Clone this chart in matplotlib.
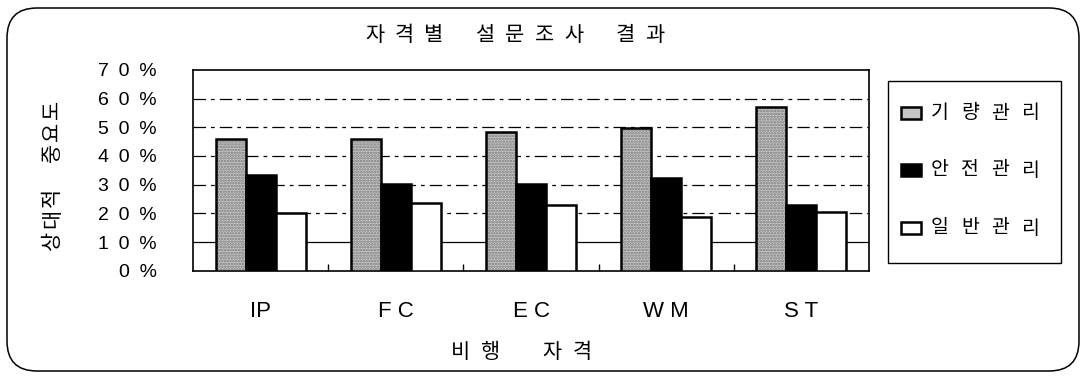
import numpy as np
import matplotlib.pyplot as plt
from matplotlib.patches import FancyBboxPatch, Rectangle

plt.rcParams["font.family"] = ["Noto Sans CJK KR", "DejaVu Sans"]
plt.rcParams["hatch.linewidth"] = 1.2

# survey results by flight qualification (relative importance, %)
categories = ["IP", "F C", "E C", "W M", "S T"]
skill_mgmt = [46.0, 46.0, 48.2, 49.7, 57.2]    # 기량관리
safety_mgmt = [33.4, 30.2, 30.3, 32.2, 23.0]   # 안전관리
general_mgmt = [20.2, 23.7, 22.8, 18.8, 20.5]  # 일반관리
series_names = ["기량관리", "안전관리", "일반관리"]
yticks = [0, 10, 20, 30, 40, 50, 60, 70]
ytick_labels = [f"{v // 10}\u2002{v % 10}\u2002%" if v else "0\u2002%" for v in yticks]

latin = ["Liberation Sans", "DejaVu Sans"]
gray_fill = "#c6c6c6"

fig = plt.figure(figsize=(10.8, 3.76), dpi=100)

# background axes in pixel units for the frame, titles and legend
bg = fig.add_axes([0, 0, 1, 1], zorder=-5)
bg.set_xlim(0, 1080)
bg.set_ylim(376, 0)
bg.axis("off")


def spaced(x, y, text, pitch, gap, vertical=False, **kw):
    """Place Hangul one glyph at a time with wide letter spacing."""
    pos = 0.0
    for ch in text:
        if ch == " ":
            pos += gap
            continue
        if vertical:
            bg.text(x, y - pos, ch, rotation=90, ha="center", va="center", **kw)
        else:
            bg.text(x + pos, y, ch, ha="center", va="center", **kw)
        pos += pitch


bg.add_patch(FancyBboxPatch((7, 8), 1072, 363,
                            boxstyle="round,pad=0,rounding_size=30",
                            fill=False, edgecolor="black", linewidth=1.1))

ax = fig.add_axes([0.1787, 0.280, 0.626, 0.534])

x = np.arange(len(categories))
w = 0.222
# stippled grey bars: dotted hatch layer plus a black outline
ax.bar(x - w, skill_mgmt, width=w, color=gray_fill, hatch="......",
       edgecolor="#7a7a7a", linewidth=0, zorder=3)
ax.bar(x - w, skill_mgmt, width=w, fill=False, edgecolor="black",
       linewidth=1.8, zorder=4)
ax.bar(x, safety_mgmt, width=w, color="black", edgecolor="black",
       linewidth=1.8, zorder=4)
ax.bar(x + w, general_mgmt, width=w, color="white", edgecolor="black",
       linewidth=1.8, zorder=4)

ax.set_xlim(-0.5, len(categories) - 0.5)
ax.set_ylim(0, 70)

# broken-looking horizontal gridlines
for y in yticks[1:-1]:
    ls = "-" if y == 10 else (0, (10, 4, 3, 4))
    ax.axhline(y, color="black", linewidth=0.9, linestyle=ls, zorder=1)

ax.set_yticks(yticks)
ax.set_yticklabels(ytick_labels, fontsize=14, family=latin)
ax.tick_params(axis="y", length=0, pad=26)

ax.set_xticks(x)
ax.set_xticklabels(categories, fontsize=16, family=latin)
ax.tick_params(axis="x", length=0, pad=22)
ax.set_xticks(np.arange(0.5, len(categories) - 0.5), minor=True)
ax.tick_params(axis="x", which="minor", direction="in", length=5, width=1)

for s in ax.spines.values():
    s.set_linewidth(1.2)

spaced(375, 35, "자격별 설문조사 결과", 29.5, 22, fontsize=15)
spaced(460, 352, "비행 자격", 30, 32, fontsize=15)
spaced(52, 240, "상대적 중요도", 21.5, 23, vertical=True, fontsize=15)

# legend box
bg.add_patch(Rectangle((888, 81), 173, 182, fill=False, edgecolor="black",
                       linewidth=1.0))
legend_fills = [gray_fill, "black", "white"]
for row_y, name, fc in zip([113, 170, 228], series_names, legend_fills):
    bg.add_patch(Rectangle((901, row_y - 6), 20, 12, facecolor=fc,
                           edgecolor="black", linewidth=1.8))
    spaced(940, row_y, name, 30, 0, fontsize=14)

fig.savefig("out.png", dpi=100)
